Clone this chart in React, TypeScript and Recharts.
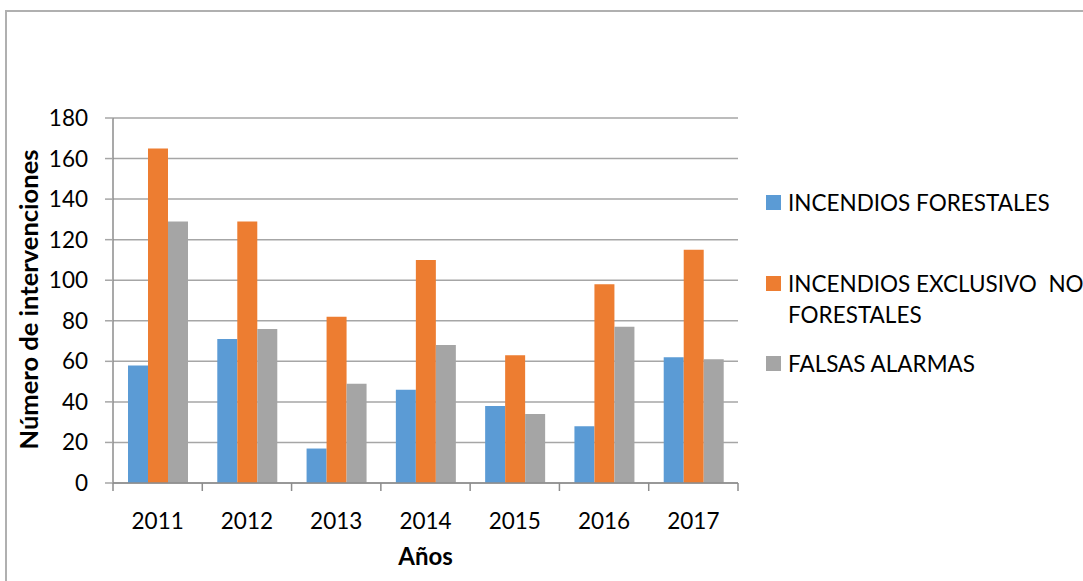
import React from 'react';
import { BarChart, Bar, XAxis, YAxis, CartesianGrid } from 'recharts';

const YEARS = ['2011', '2012', '2013', '2014', '2015', '2016', '2017'];
const INCENDIOS_FORESTALES = [58, 71, 17, 46, 38, 28, 62];
const INCENDIOS_NO_FORESTALES = [165, 129, 82, 110, 63, 98, 115];
const FALSAS_ALARMAS = [129, 76, 49, 68, 34, 77, 61];
const Y_TICKS = [0, 20, 40, 60, 80, 100, 120, 140, 160, 180];

const SERIES = [
  { key: 'forestales', name: 'INCENDIOS FORESTALES', lines: ['INCENDIOS FORESTALES'], color: '#5b9bd5' },
  { key: 'noForestales', name: 'INCENDIOS EXCLUSIVO  NO FORESTALES', lines: ['INCENDIOS EXCLUSIVO  NO', 'FORESTALES'], color: '#ed7d31' },
  { key: 'falsas', name: 'FALSAS ALARMAS', lines: ['FALSAS ALARMAS'], color: '#a5a5a5' },
];

const data = YEARS.map((year, i) => ({
  year,
  forestales: INCENDIOS_FORESTALES[i],
  noForestales: INCENDIOS_NO_FORESTALES[i],
  falsas: FALSAS_ALARMAS[i],
}));

const W = 1083;
const H = 581;
const PLOT_LEFT = 113;
const PLOT_RIGHT = 738;
const PLOT_TOP = 118;
const PLOT_BOTTOM = 483;
const BAND = (PLOT_RIGHT - PLOT_LEFT) / YEARS.length;
const FONT = 'Lato, "Open Sans", sans-serif';
const GRID = '#a6a6a6';
const AXIS = '#8c8c8c';

const XTick = (props: any) => {
  const { x, y, payload, index } = props;
  const axisY = y - 8;
  const left = x - BAND / 2;
  return (
    <g>
      <line x1={left} x2={left} y1={axisY} y2={axisY + 8} stroke={AXIS} strokeWidth={1.5} />
      {index === YEARS.length - 1 && (
        <line x1={x + BAND / 2} x2={x + BAND / 2} y1={axisY} y2={axisY + 8} stroke={AXIS} strokeWidth={1.5} />
      )}
      <text x={x} y={y + 38} textAnchor="middle" fontFamily={FONT} fontSize={22.5} fill="#000">
        {payload.value}
      </text>
    </g>
  );
};

const YLabel = () => (
  <text
    x={38}
    y={(PLOT_TOP + PLOT_BOTTOM) / 2 - 1}
    transform={`rotate(-90, 38, ${(PLOT_TOP + PLOT_BOTTOM) / 2 - 1})`}
    textAnchor="middle"
    fontFamily={FONT}
    fontSize={25.5}
    fontWeight="bold"
    fill="#000"
  >
    Número de intervenciones
  </text>
);

const XLabel = () => (
  <text
    x={(PLOT_LEFT + PLOT_RIGHT) / 2}
    y={565}
    textAnchor="middle"
    fontFamily={FONT}
    fontSize={24}
    fontWeight="bold"
    fill="#000"
  >
    Años
  </text>
);

const LEGEND_TOPS = [203, 284, 364];

export default function App() {
  return (
    <div
      style={{
        position: 'absolute',
        left: 0,
        top: 0,
        width: W,
        height: H,
        overflow: 'hidden',
        background: '#fff',
        fontFamily: FONT,
      }}
    >
      <div
        style={{
          position: 'absolute',
          left: 5,
          top: 10,
          width: W + 100,
          height: H + 100,
          border: '2px solid #b0b0b0',
          boxSizing: 'border-box',
        }}
      />
      <div style={{ position: 'absolute', left: 0, top: 0 }}>
        <BarChart
          width={W}
          height={H}
          data={data}
          margin={{ top: PLOT_TOP, right: W - PLOT_RIGHT, left: 0, bottom: 0 }}
          barCategoryGap="16.8%"
          barGap={0}
        >
          <CartesianGrid vertical={false} stroke={GRID} strokeWidth={1.5} />
          <XAxis
            dataKey="year"
            height={H - PLOT_BOTTOM}
            tickLine={false}
            tickSize={8}
            tickMargin={0}
            axisLine={{ stroke: AXIS, strokeWidth: 1.5 }}
            tick={<XTick />}
            interval={0}
            label={<XLabel />}
          />
          <YAxis
            width={PLOT_LEFT}
            domain={[0, 180]}
            ticks={Y_TICKS}
            interval={0}
            tickSize={8}
            tickMargin={17}
            tickLine={{ stroke: GRID, strokeWidth: 1.5 }}
            axisLine={{ stroke: AXIS, strokeWidth: 1.5 }}
            tick={{ fontFamily: FONT, fontSize: 22.5, fill: '#000' }}
            label={<YLabel />}
          />
          {SERIES.map((s) => (
            <Bar key={s.key} dataKey={s.key} name={s.name} fill={s.color} isAnimationActive={false} />
          ))}
        </BarChart>
      </div>
      {SERIES.map((s, i) => (
        <div key={s.key}>
          <div
            style={{
              position: 'absolute',
              left: 766,
              top: LEGEND_TOPS[i] - 8,
              width: 15,
              height: 15,
              background: s.color,
            }}
          />
          <div
            style={{
              position: 'absolute',
              left: 788,
              top: LEGEND_TOPS[i] - 16,
              fontSize: 22.5,
              lineHeight: '31px',
              color: '#000',
              whiteSpace: 'pre',
            }}
          >
            {s.lines.join('\n')}
          </div>
        </div>
      ))}
    </div>
  );
}
